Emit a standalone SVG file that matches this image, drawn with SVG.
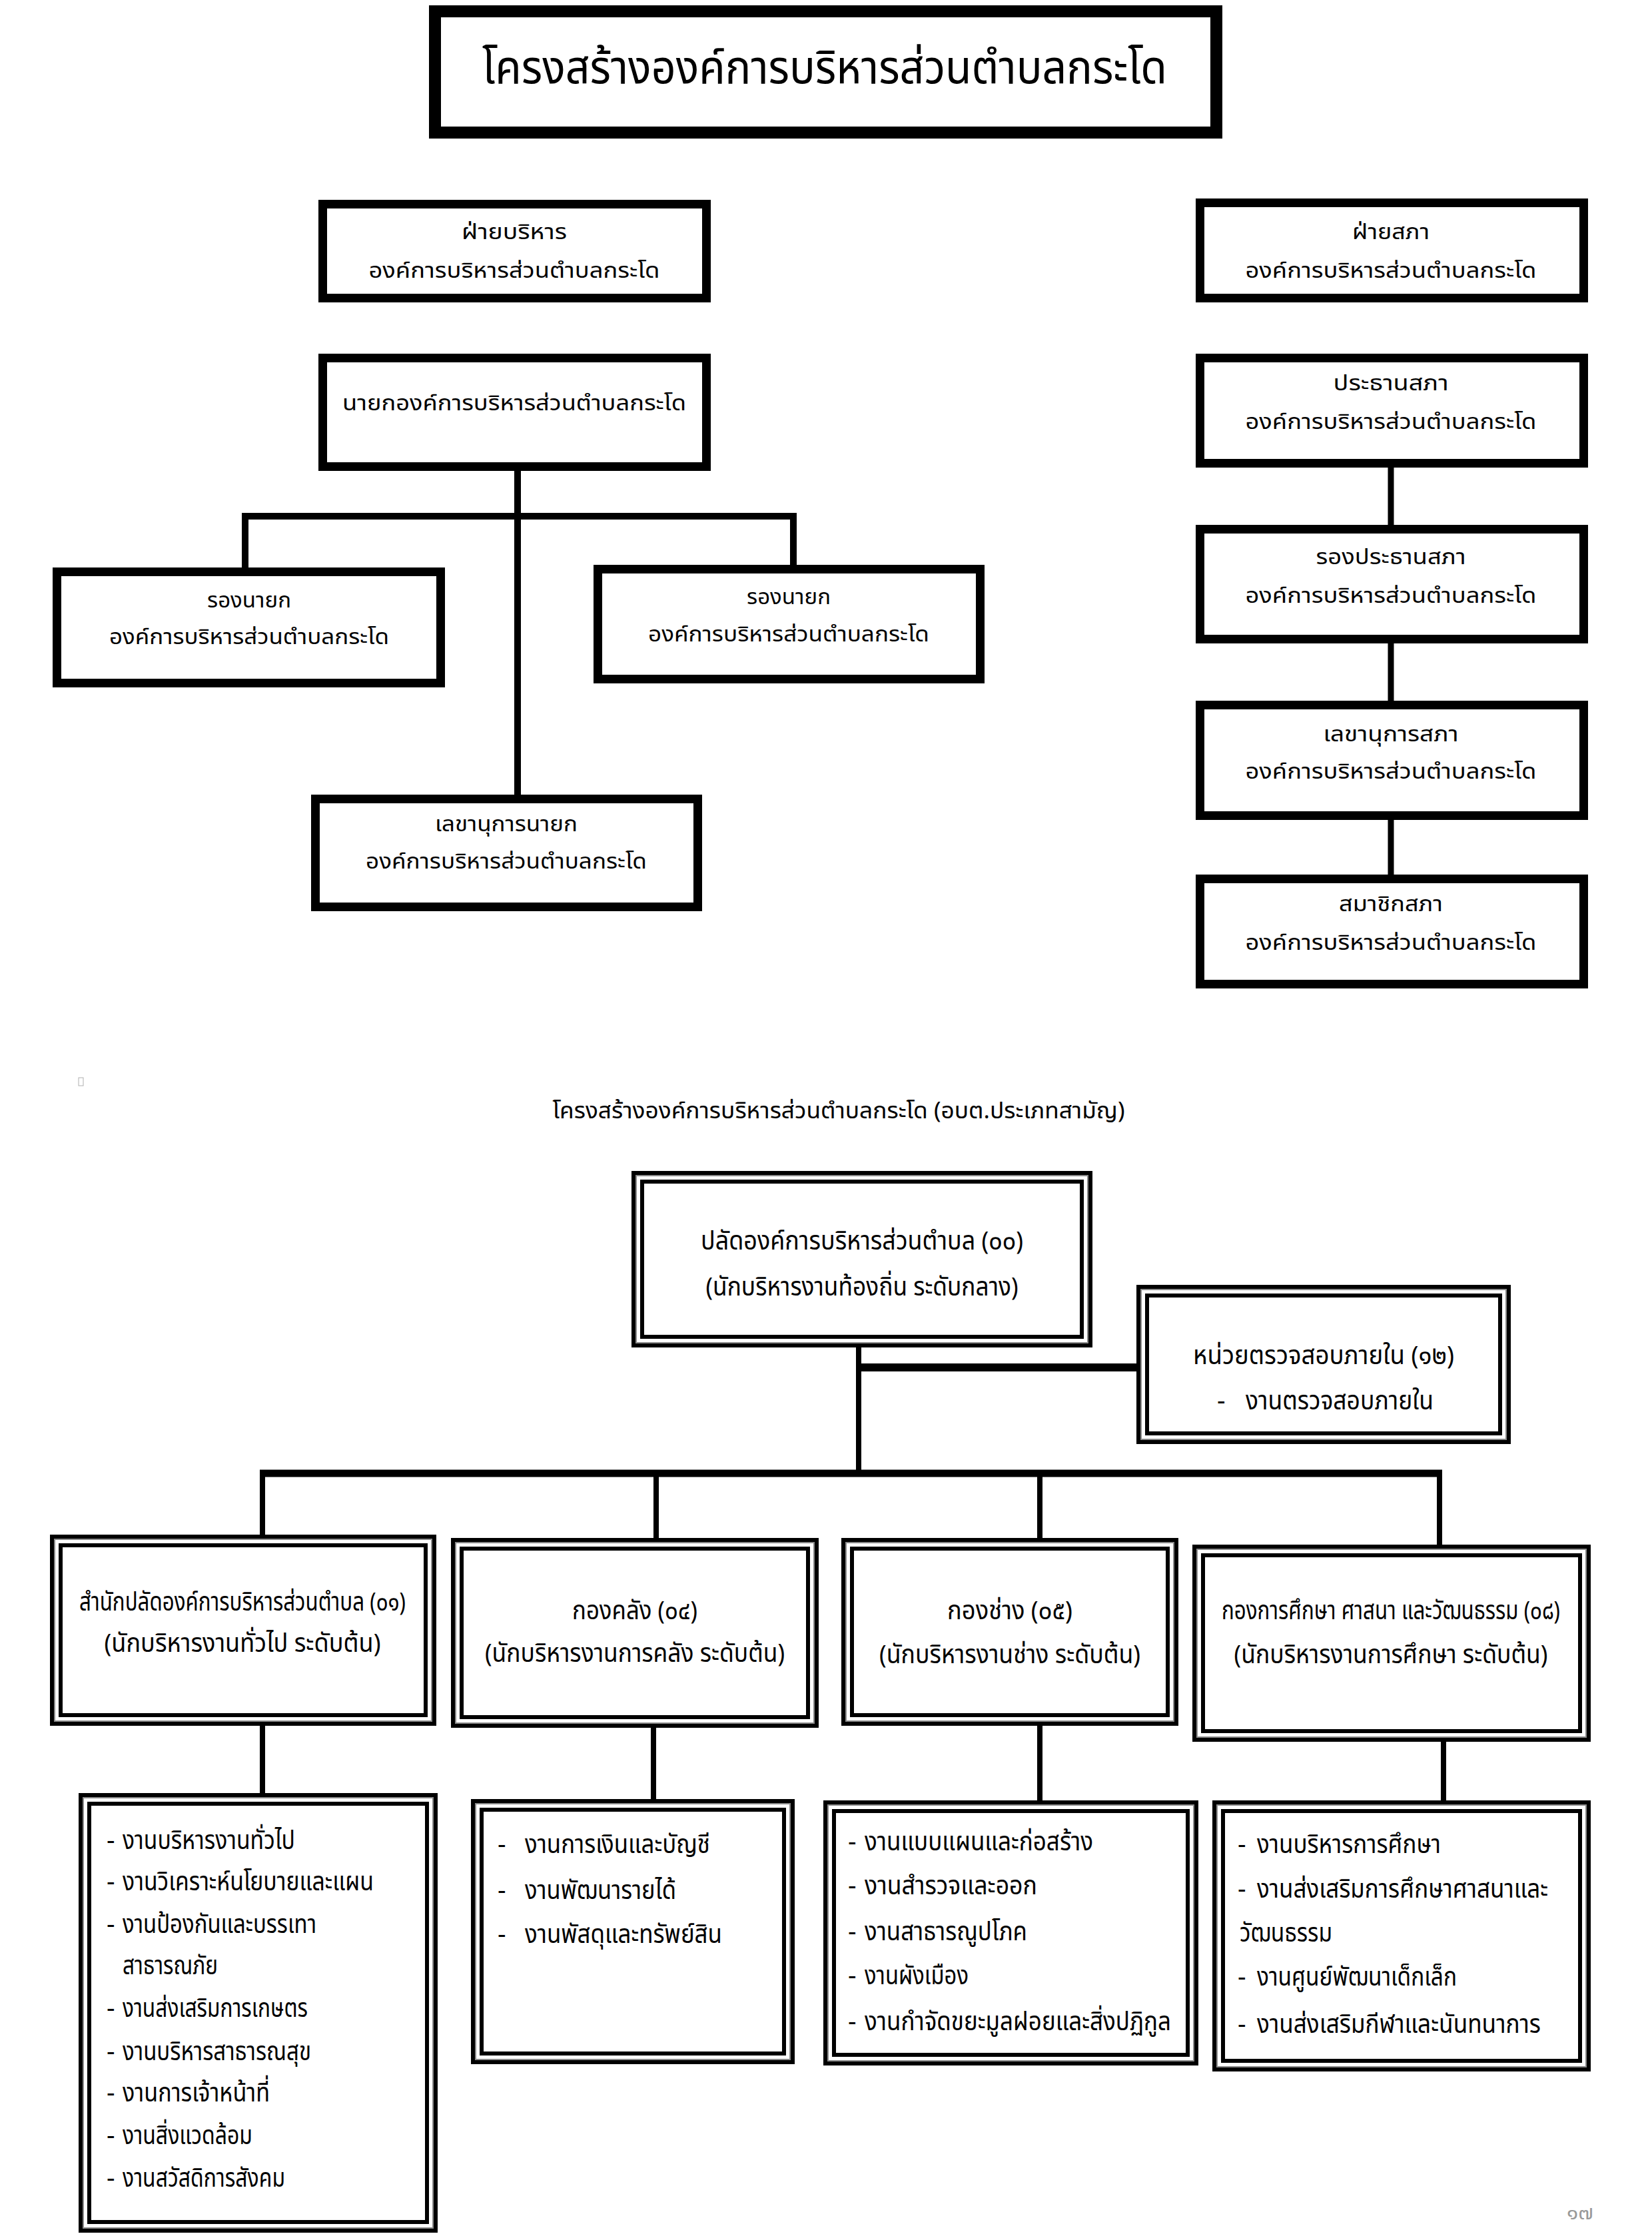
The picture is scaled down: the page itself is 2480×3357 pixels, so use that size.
<svg xmlns="http://www.w3.org/2000/svg" width="2480" height="3357" viewBox="0 0 2480 3357">
<defs>
<style>
text{font-family:"Noto Sans Thai","Noto Sans Thai UI","Noto Sans","DejaVu Sans",sans-serif;fill:#000}
.t{font-size:70px}
.s{font-size:32px}
.st{font-size:34px}
.m{font-size:39px}
.c{text-anchor:middle}
.thick{fill:#fff;stroke:#000;stroke-width:13}
.o{fill:#fff;stroke:#000;stroke-width:6}
.g{fill:none;stroke:#8a8a8a;stroke-width:2}
.i{fill:#fff;stroke:#000;stroke-width:6}
.ln{fill:none;stroke:#000;stroke-linecap:butt}
</style>
</defs>
<rect width="2480" height="3357" fill="#fff"/>

<g id="title">
<rect x="653" y="17" width="1173" height="182" fill="#fff" stroke="#000" stroke-width="18"/>
<text class="t c" x="1238" y="125" textLength="1028" lengthAdjust="spacingAndGlyphs">โครงสร้างองค์การบริหารส่วนตำบลกระโด</text>
</g>

<g id="connectors">
<path class="ln" stroke-width="10" d="M777 707V1193M363 775H1196M368 770V852M1191 770V848"/>
<path class="ln" stroke-width="9" d="M2088 702V788M2088 966V1052M2088 1231V1313"/>
<path class="ln" stroke-width="8" d="M1289 2023V2212"/>
<path class="ln" stroke-width="12" d="M1289 2053H1706"/>
<path class="ln" stroke-width="11" d="M390 2212H2165"/>
<path class="ln" stroke-width="8" d="M394 2212V2304M985 2212V2309M1561 2212V2311M2161 2212V2319"/>
<path class="ln" stroke-width="8" d="M394 2591V2694M981 2594V2703M1561 2591V2707M2167 2615V2707"/>
</g>

<g id="exec-side">
<rect class="thick" x="484.5" y="306.5" width="576" height="141"/>
<text class="s c" x="772" y="359" textLength="158" lengthAdjust="spacingAndGlyphs">ฝ่ายบริหาร</text>
<text class="s c" x="772" y="417" textLength="437" lengthAdjust="spacingAndGlyphs">องค์การบริหารส่วนตำบลกระโด</text>
</g>
<g id="mayor">
<rect class="thick" x="484.5" y="537.5" width="576" height="163"/>
<text class="s c" x="772" y="616" textLength="516" lengthAdjust="spacingAndGlyphs">นายกองค์การบริหารส่วนตำบลกระโด</text>
</g>
<g id="deputy-left">
<rect class="thick" x="85.5" y="858.5" width="576" height="167"/>
<text class="s c" x="374" y="912" textLength="126" lengthAdjust="spacingAndGlyphs">รองนายก</text>
<text class="s c" x="374" y="967" textLength="420" lengthAdjust="spacingAndGlyphs">องค์การบริหารส่วนตำบลกระโด</text>
</g>
<g id="deputy-right">
<rect class="thick" x="897.5" y="854.5" width="574" height="165"/>
<text class="s c" x="1184" y="907" textLength="126" lengthAdjust="spacingAndGlyphs">รองนายก</text>
<text class="s c" x="1184" y="963" textLength="422" lengthAdjust="spacingAndGlyphs">องค์การบริหารส่วนตำบลกระโด</text>
</g>
<g id="mayor-secretary">
<rect class="thick" x="473.5" y="1199.5" width="574" height="162"/>
<text class="s c" x="760" y="1248" textLength="214" lengthAdjust="spacingAndGlyphs">เลขานุการนายก</text>
<text class="s c" x="760" y="1304" textLength="422" lengthAdjust="spacingAndGlyphs">องค์การบริหารส่วนตำบลกระโด</text>
</g>

<g id="council-side">
<rect class="thick" x="1801.5" y="304.5" width="576" height="143"/>
<text class="s c" x="2088" y="359" textLength="116" lengthAdjust="spacingAndGlyphs">ฝ่ายสภา</text>
<text class="s c" x="2088" y="417" textLength="437" lengthAdjust="spacingAndGlyphs">องค์การบริหารส่วนตำบลกระโด</text>
</g>
<g id="council-chair">
<rect class="thick" x="1801.5" y="537.5" width="576" height="158"/>
<text class="s c" x="2088" y="586" textLength="173" lengthAdjust="spacingAndGlyphs">ประธานสภา</text>
<text class="s c" x="2088" y="644" textLength="437" lengthAdjust="spacingAndGlyphs">องค์การบริหารส่วนตำบลกระโด</text>
</g>
<g id="council-vice">
<rect class="thick" x="1801.5" y="794.5" width="576" height="165"/>
<text class="s c" x="2088" y="847" textLength="225" lengthAdjust="spacingAndGlyphs">รองประธานสภา</text>
<text class="s c" x="2088" y="905" textLength="437" lengthAdjust="spacingAndGlyphs">องค์การบริหารส่วนตำบลกระโด</text>
</g>
<g id="council-secretary">
<rect class="thick" x="1801.5" y="1058.5" width="576" height="166"/>
<text class="s c" x="2088" y="1113" textLength="203" lengthAdjust="spacingAndGlyphs">เลขานุการสภา</text>
<text class="s c" x="2088" y="1169" textLength="437" lengthAdjust="spacingAndGlyphs">องค์การบริหารส่วนตำบลกระโด</text>
</g>
<g id="council-members">
<rect class="thick" x="1801.5" y="1319.5" width="576" height="158"/>
<text class="s c" x="2088" y="1368" textLength="156" lengthAdjust="spacingAndGlyphs">สมาชิกสภา</text>
<text class="s c" x="2088" y="1426" textLength="437" lengthAdjust="spacingAndGlyphs">องค์การบริหารส่วนตำบลกระโด</text>
</g>

<rect x="118" y="1618" width="7" height="12" fill="none" stroke="#b0b0b0" stroke-width="1"/>

<g id="subtitle">
<text class="st c" x="1259" y="1679" textLength="859" lengthAdjust="spacingAndGlyphs">โครงสร้างองค์การบริหารส่วนตำบลกระโด (อบต.ประเภทสามัญ)</text>
</g>

<g id="palad">
<rect class="o" x="951" y="1761" width="686" height="259"/>
<rect class="g" x="955" y="1765" width="678" height="251"/>
<rect class="i" x="964" y="1774" width="660" height="233"/>
<text class="m c" x="1294" y="1876" textLength="484" lengthAdjust="spacingAndGlyphs">ปลัดองค์การบริหารส่วนตำบล (๐๐)</text>
<text class="m c" x="1294" y="1945" textLength="469" lengthAdjust="spacingAndGlyphs">(นักบริหารงานท้องถิ่น ระดับกลาง)</text>
</g>

<g id="audit">
<rect class="o" x="1709" y="1932" width="556" height="233"/>
<rect class="g" x="1713" y="1936" width="548" height="225"/>
<rect class="i" x="1722" y="1945" width="530" height="207"/>
<text class="m c" x="1987" y="2048" textLength="392" lengthAdjust="spacingAndGlyphs">หน่วยตรวจสอบภายใน (๑๒)</text>
<text class="m" x="1827" y="2116">-</text>
<text class="m" x="1870" y="2116" textLength="282" lengthAdjust="spacingAndGlyphs">งานตรวจสอบภายใน</text>
</g>

<g id="office-palad">
<rect class="o" x="78" y="2307" width="574" height="281"/>
<rect class="g" x="82" y="2311" width="566" height="273"/>
<rect class="i" x="91" y="2320" width="548" height="255"/>
<text class="m c" x="364" y="2418" textLength="490" lengthAdjust="spacingAndGlyphs">สำนักปลัดองค์การบริหารส่วนตำบล (๐๑)</text>
<text class="m c" x="364" y="2480" textLength="415" lengthAdjust="spacingAndGlyphs">(นักบริหารงานทั่วไป ระดับต้น)</text>
</g>
<g id="finance">
<rect class="o" x="680" y="2312" width="546" height="279"/>
<rect class="g" x="684" y="2316" width="538" height="271"/>
<rect class="i" x="693" y="2325" width="520" height="253"/>
<text class="m c" x="953" y="2431" textLength="188" lengthAdjust="spacingAndGlyphs">กองคลัง (๐๔)</text>
<text class="m c" x="953" y="2495" textLength="450" lengthAdjust="spacingAndGlyphs">(นักบริหารงานการคลัง ระดับต้น)</text>
</g>
<g id="engineering">
<rect class="o" x="1266" y="2312" width="500" height="276"/>
<rect class="g" x="1270" y="2316" width="492" height="268"/>
<rect class="i" x="1279" y="2325" width="474" height="250"/>
<text class="m c" x="1516" y="2431" textLength="188" lengthAdjust="spacingAndGlyphs">กองช่าง (๐๕)</text>
<text class="m c" x="1516" y="2497" textLength="392" lengthAdjust="spacingAndGlyphs">(นักบริหารงานช่าง ระดับต้น)</text>
</g>
<g id="education">
<rect class="o" x="1793" y="2322" width="592" height="290"/>
<rect class="g" x="1797" y="2326" width="584" height="282"/>
<rect class="i" x="1806" y="2335" width="566" height="264"/>
<text class="m c" x="2088" y="2431" textLength="508" lengthAdjust="spacingAndGlyphs">กองการศึกษา ศาสนา และวัฒนธรรม (๐๘)</text>
<text class="m c" x="2088" y="2497" textLength="471" lengthAdjust="spacingAndGlyphs">(นักบริหารงานการศึกษา ระดับต้น)</text>
</g>

<g id="tasks-palad">
<rect class="o" x="121" y="2695" width="533" height="654"/>
<rect class="g" x="125" y="2699" width="525" height="646"/>
<rect class="i" x="134" y="2708" width="507" height="628"/>
<text class="m" x="160" y="2776">-</text><text class="m" x="184" y="2776" textLength="259" lengthAdjust="spacingAndGlyphs">งานบริหารงานทั่วไป</text>
<text class="m" x="160" y="2838">-</text><text class="m" x="184" y="2838" textLength="377" lengthAdjust="spacingAndGlyphs">งานวิเคราะห์นโยบายและแผน</text>
<text class="m" x="160" y="2902">-</text><text class="m" x="184" y="2902" textLength="291" lengthAdjust="spacingAndGlyphs">งานป้องกันและบรรเทา</text>
<text class="m" x="184" y="2964" textLength="143" lengthAdjust="spacingAndGlyphs">สาธารณภัย</text>
<text class="m" x="160" y="3028">-</text><text class="m" x="184" y="3028" textLength="278" lengthAdjust="spacingAndGlyphs">งานส่งเสริมการเกษตร</text>
<text class="m" x="160" y="3093">-</text><text class="m" x="184" y="3093" textLength="283" lengthAdjust="spacingAndGlyphs">งานบริหารสาธารณสุข</text>
<text class="m" x="160" y="3155">-</text><text class="m" x="184" y="3155" textLength="221" lengthAdjust="spacingAndGlyphs">งานการเจ้าหน้าที่</text>
<text class="m" x="160" y="3219">-</text><text class="m" x="184" y="3219" textLength="195" lengthAdjust="spacingAndGlyphs">งานสิ่งแวดล้อม</text>
<text class="m" x="160" y="3283">-</text><text class="m" x="184" y="3283" textLength="244" lengthAdjust="spacingAndGlyphs">งานสวัสดิการสังคม</text>
</g>
<g id="tasks-finance">
<rect class="o" x="710" y="2704" width="480" height="392"/>
<rect class="g" x="714" y="2708" width="472" height="384"/>
<rect class="i" x="723" y="2717" width="454" height="366"/>
<text class="m" x="747" y="2782">-</text><text class="m" x="788" y="2782" textLength="278" lengthAdjust="spacingAndGlyphs">งานการเงินและบัญชี</text>
<text class="m" x="747" y="2851">-</text><text class="m" x="788" y="2851" textLength="227" lengthAdjust="spacingAndGlyphs">งานพัฒนารายได้</text>
<text class="m" x="747" y="2917">-</text><text class="m" x="788" y="2917" textLength="296" lengthAdjust="spacingAndGlyphs">งานพัสดุและทรัพย์สิน</text>
</g>
<g id="tasks-engineering">
<rect class="o" x="1239" y="2706" width="557" height="392"/>
<rect class="g" x="1243" y="2710" width="549" height="384"/>
<rect class="i" x="1252" y="2719" width="531" height="366"/>
<text class="m" x="1273" y="2778">-</text><text class="m" x="1298" y="2778" textLength="343" lengthAdjust="spacingAndGlyphs">งานแบบแผนและก่อสร้าง</text>
<text class="m" x="1273" y="2844">-</text><text class="m" x="1298" y="2844" textLength="259" lengthAdjust="spacingAndGlyphs">งานสำรวจและออก</text>
<text class="m" x="1273" y="2913">-</text><text class="m" x="1298" y="2913" textLength="244" lengthAdjust="spacingAndGlyphs">งานสาธารณูปโภค</text>
<text class="m" x="1273" y="2979">-</text><text class="m" x="1298" y="2979" textLength="156" lengthAdjust="spacingAndGlyphs">งานผังเมือง</text>
<text class="m" x="1273" y="3048">-</text><text class="m" x="1298" y="3048" textLength="460" lengthAdjust="spacingAndGlyphs">งานกำจัดขยะมูลฝอยและสิ่งปฏิกูล</text>
</g>
<g id="tasks-education">
<rect class="o" x="1823" y="2706" width="562" height="401"/>
<rect class="g" x="1827" y="2710" width="554" height="393"/>
<rect class="i" x="1836" y="2719" width="536" height="375"/>
<text class="m" x="1858" y="2782">-</text><text class="m" x="1887" y="2782" textLength="276" lengthAdjust="spacingAndGlyphs">งานบริหารการศึกษา</text>
<text class="m" x="1858" y="2849">-</text><text class="m" x="1887" y="2849" textLength="437" lengthAdjust="spacingAndGlyphs">งานส่งเสริมการศึกษาศาสนาและ</text>
<text class="m" x="1861" y="2915" textLength="139" lengthAdjust="spacingAndGlyphs">วัฒนธรรม</text>
<text class="m" x="1858" y="2981">-</text><text class="m" x="1887" y="2981" textLength="300" lengthAdjust="spacingAndGlyphs">งานศูนย์พัฒนาเด็กเล็ก</text>
<text class="m" x="1858" y="3052">-</text><text class="m" x="1887" y="3052" textLength="426" lengthAdjust="spacingAndGlyphs">งานส่งเสริมกีฬาและนันทนาการ</text>
</g>

<text x="2352" y="3332" style="font-size:28px;fill:#999" textLength="40" lengthAdjust="spacingAndGlyphs">๑๗</text>
</svg>
